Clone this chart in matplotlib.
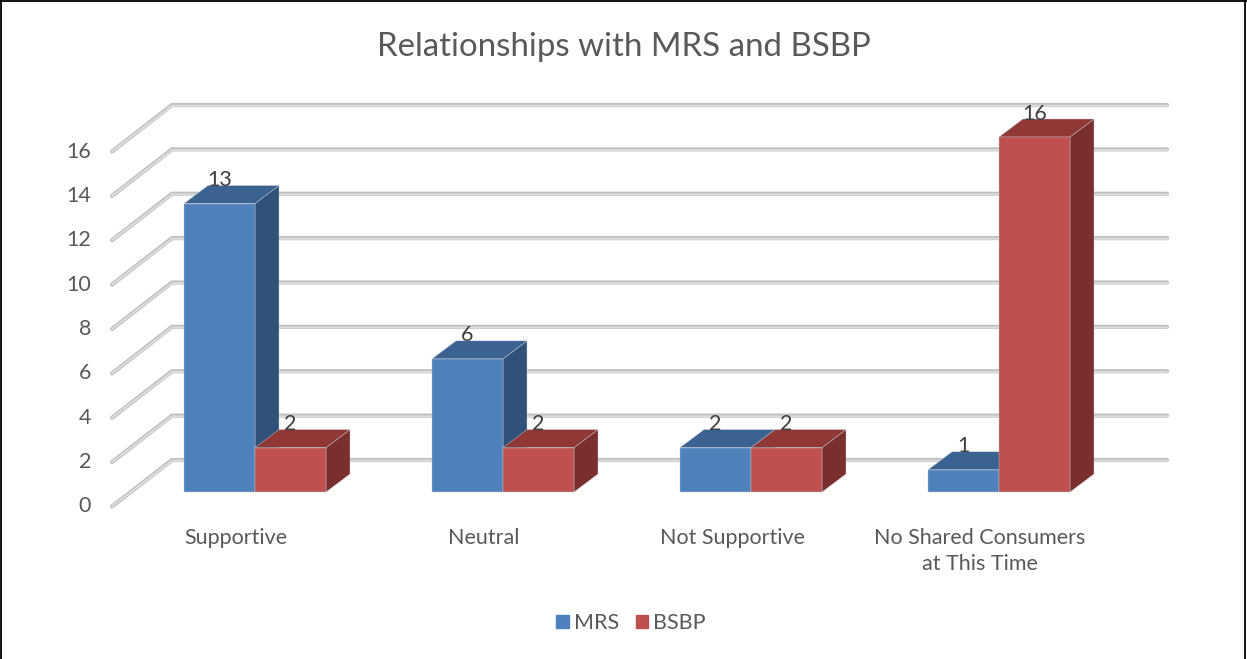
import matplotlib
matplotlib.use("Agg")
import matplotlib.pyplot as plt
from matplotlib.patches import Patch, Polygon

categories = ["Supportive", "Neutral", "Not Supportive", "No Shared Consumers\nat This Time"]
mrs = [13, 6, 2, 1]
bsbp = [2, 2, 2, 16]
yticks = [0, 2, 4, 6, 8, 10, 12, 14, 16]
title = "Relationships with MRS and BSBP"

W, H = 1247, 659
PX_X = 248.0      # pixels per category
PX_Y = 355 / 16   # pixels per value unit
X0, Y0 = 255, 492 # pixel of category 0 / value 0

plt.rcParams["font.family"] = ["Lato", "DejaVu Sans"]
fig = plt.figure(figsize=(W / 100, H / 100), dpi=100, facecolor="white")
ax = fig.add_axes([0, 0, 1, 1])
ax.set_xlim(-X0 / PX_X, (W - X0) / PX_X)
ax.set_ylim(-(H - Y0) / PX_Y, Y0 / PX_Y)
ax.axis("off")

bw = 71 / PX_X
dx, dy = 24 / PX_X, 18 / PX_Y
xf, yf = (112 - X0) / PX_X, -14.5 / PX_Y    # front end of wall lines
xb, yb = (172 - X0) / PX_X, 32 / PX_Y       # back corner of wall lines
xr = (1167 - X0) / PX_X                     # right end of wall lines

TXT = "#595959"
FS = 15.5
for v in yticks:
    ax.plot([xf, xb, xr], [v + yf, v + yb, v + yb], color="#c0c0c0", lw=3.0,
            solid_capstyle="round", solid_joinstyle="miter", zorder=1)
    ax.plot([xf, xb, xr], [v + yf, v + yb - 0.03, v + yb - 0.03], color="#dedede", lw=1.3,
            solid_capstyle="round", solid_joinstyle="miter", zorder=1.1)
    ax.text((91 - X0) / PX_X, v - 14.5 / PX_Y, str(v), ha="right", va="center",
            fontsize=FS, color=TXT)


def bar(x_left, val, front, top, side, z):
    x_right = x_left + bw
    ec = "#c4c8d0"
    ax.add_patch(Polygon([(x_right, 0), (x_right + dx, dy), (x_right + dx, val + dy), (x_right, val)],
                         fc=side, ec=ec, lw=0.3, zorder=z))
    ax.add_patch(Polygon([(x_left, val), (x_left + dx, val + dy), (x_right + dx, val + dy), (x_right, val)],
                         fc=top, ec=ec, lw=0.3, zorder=z))
    ax.add_patch(Polygon([(x_left, 0), (x_left, val), (x_right, val), (x_right, 0)],
                         fc=front, ec=ec, lw=0.3, zorder=z + 0.1))
    ax.text(x_left + bw / 2, val + 23.5 / PX_Y, str(val), ha="center", va="center",
            fontsize=FS, color="#404040", zorder=10)


for i, (a, b) in enumerate(zip(mrs, bsbp)):
    bar(i - bw, a, "#4f81bd", "#3b6392", "#30527a", 3)
    bar(i, b, "#c0504d", "#8f3836", "#7a2e2d", 4)
    lines = categories[i].split("\n")
    ax.text(i - 19 / PX_X, -46.5 / PX_Y, lines[0], ha="center", va="center", fontsize=FS, color=TXT)
    if len(lines) > 1:
        ax.text(i - 19 / PX_X, -72.5 / PX_Y, lines[1], ha="center", va="center", fontsize=FS, color=TXT)

fig.text(624 / W, 1 - 47.5 / H, title, ha="center", va="center", fontsize=23.8, color=TXT)

leg = fig.legend(handles=[Patch(color="#4f81bd", label="MRS"), Patch(color="#c0504d", label="BSBP")],
                 loc="center", bbox_to_anchor=(631 / W, 1 - 623 / H), ncol=2, frameon=False,
                 fontsize=FS, labelcolor=TXT, handlelength=0.58, handleheight=0.58,
                 handletextpad=0.22, columnspacing=0.79, borderpad=0)

for xs, ys in (([1, 1], [0, H]), ([W - 2, W - 2], [0, H]), ([0, W], [0.5, 0.5])):
    fig.add_artist(plt.Line2D([x / W for x in xs], [1 - y / H for y in ys], color="black", lw=1.3))

fig.savefig("out.png", dpi=100, facecolor="white")
